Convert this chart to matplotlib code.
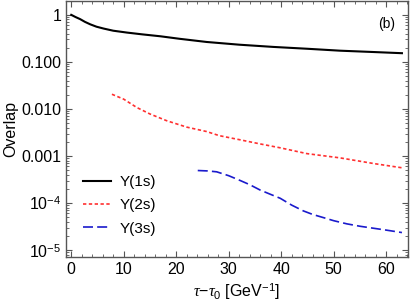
import matplotlib
matplotlib.use('Agg')
import matplotlib.pyplot as plt
from matplotlib.ticker import FixedLocator, FixedFormatter, MultipleLocator, LogLocator, NullFormatter

plt.rcParams['font.family'] = ['Liberation Sans', 'DejaVu Sans']
plt.rcParams['mathtext.fontset'] = 'custom'
plt.rcParams['mathtext.rm'] = 'Liberation Sans'
plt.rcParams['mathtext.it'] = 'Liberation Serif:italic'

# Y(1s)
t1 = [0, 0.8, 1.7, 2.6, 3.6, 4.8, 6.2, 8, 10.6, 13.5, 17, 20.6, 25.8, 32, 38.5, 45, 51.2, 57, 63]
o1 = [1.0, 0.9, 0.81, 0.71, 0.63, 0.56, 0.51, 0.46, 0.42, 0.385, 0.35, 0.31, 0.265, 0.232, 0.208, 0.19, 0.173, 0.163, 0.153]
# Y(2s)
t2 = [7.75, 10, 12.5, 15, 18.2, 22, 25.8, 28.2, 32.2, 36, 39.8, 44.9, 51.2, 57.6, 63]
o2 = [0.0205, 0.0161, 0.0107, 0.0078, 0.0056, 0.0041, 0.0033, 0.0027, 0.0022, 0.0018, 0.00149, 0.00112, 0.00091, 0.00069, 0.00056]
# Y(3s)
t3 = [24.1, 26, 27.7, 30, 32.2, 34, 36, 38, 39.8, 42, 44.2, 46, 48, 50, 52.5, 55, 57.6, 60, 63]
o3 = [0.00049, 0.00048, 0.00046, 0.00038, 0.00030, 0.000245, 0.000188, 0.000152, 0.000126, 9.0e-5, 6.8e-5, 5.7e-5, 4.9e-5, 4.2e-5, 3.6e-5, 3.2e-5, 2.9e-5, 2.65e-5, 2.35e-5]

ytick_vals = [1, 0.1, 0.01, 0.001, 1e-4, 1e-5]
ytick_labels = ['1', '0.100', '0.010', '0.001', r'$10^{-4}$', r'$10^{-5}$']

fig = plt.figure(figsize=(4.11, 3.03), dpi=100)
ax = fig.add_axes([0.1606, 0.1518, 0.8314, 0.8449])

ax.plot(t1, o1, color='black', lw=1.5, label='Υ(1s)')
ax.plot(t2, o2, color='#ff3030', lw=1.2, ls=(0, (2, 1.5)), label='Υ(2s)')
ax.plot(t3, o3, color='#1a1acc', lw=1.2, ls=(0, (6, 2.5)), label='Υ(3s)')

ax.set_yscale('log')
ax.set_xlim(-1, 64.1)
ax.set_ylim(7.1e-6, 1.97)

ax.yaxis.set_major_locator(FixedLocator(ytick_vals))
ax.yaxis.set_major_formatter(FixedFormatter(ytick_labels))
ax.yaxis.set_minor_locator(LogLocator(base=10, subs=range(2, 10), numticks=20))
ax.yaxis.set_minor_formatter(NullFormatter())
ax.xaxis.set_major_locator(MultipleLocator(10))
ax.xaxis.set_minor_locator(MultipleLocator(2))

frame = '#555555'
for s in ax.spines.values():
    s.set_color(frame)
    s.set_linewidth(1.0)
ax.tick_params(which='both', direction='in', top=True, right=True, color=frame, labelsize=11.5)
ax.tick_params(which='major', length=4, width=0.8)
ax.tick_params(which='minor', length=2, width=0.6)

ax.set_xlabel(r'$\it{\tau}$$-$$\it{\tau}_0$ [GeV$^{-1}$]', fontsize=11.5, labelpad=3)
ax.set_ylabel('Overlap', fontsize=11.5, labelpad=2)

ax.text(0.939, 0.91, '(b)', transform=ax.transAxes, fontsize=10, ha='center', va='center')

ax.legend(loc='lower left', bbox_to_anchor=(0.01, 0.03), frameon=False, fontsize=11,
          handlelength=1.8, handletextpad=0.6, labelspacing=0.6)

fig.savefig('out.png', dpi=100)
